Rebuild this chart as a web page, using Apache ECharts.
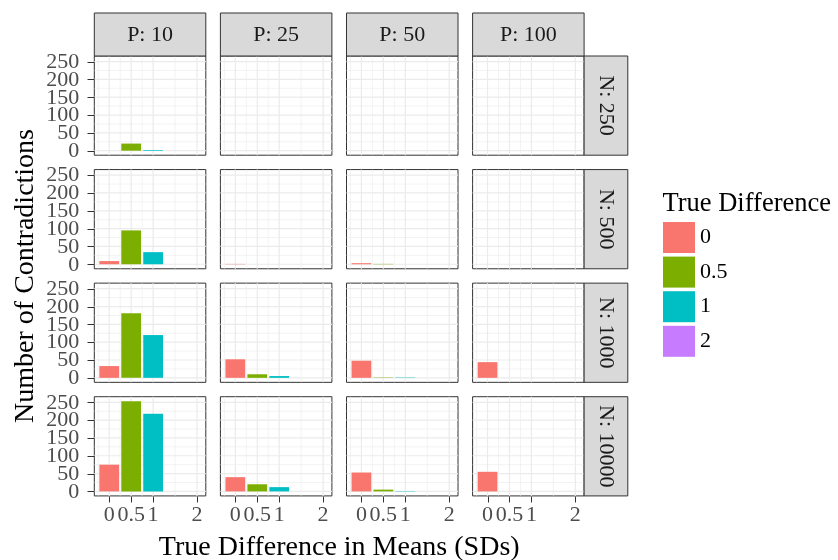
<!DOCTYPE html>
<html>
<head>
<meta charset="utf-8">
<script src="https://cdn.jsdelivr.net/npm/echarts@6/dist/echarts.min.js"></script>
<style>
  html, body { margin: 0; padding: 0; background: #ffffff; }
  #chart { width: 838px; height: 560px; }
</style>
</head>
<body>
<div id="chart"></div>
<script>
// ---------------- data ----------------
const tdLevels = ['0', '0.5', '1', '2'];          // legend / fill categories
const tdX = [0, 0.5, 1, 2];                        // x position of each level
const pLabels = ['P: 10', 'P: 25', 'P: 50', 'P: 100'];
const nLabels = ['N: 250', 'N: 500', 'N: 1000', 'N: 10000'];
const xTickValues = [0, 0.5, 1, 2];
const xMinorValues = [-0.25, 0.25, 0.75, 1.5];
const yTickValues = [0, 50, 100, 150, 200, 250];
const yMinorValues = [25, 75, 125, 175, 225];

// counts per panel: for each P column, counts for TD = 0, 0.5, 1, 2
const countsN250   = [[0, 20, 2, 0],   [0, 0, 0, 0],   [0, 0, 0, 0], [0, 0, 0, 0]];
const countsN500   = [[9, 95, 34, 0],  [1, 0, 0, 0],   [3, 1, 0, 0], [0, 0, 0, 0]];
const countsN1000  = [[33, 181, 120, 0], [52, 10, 5, 0], [48, 1, 1, 0], [44, 0, 0, 0]];
const countsN10000 = [[75, 253, 218, 0], [40, 20, 12, 0], [53, 5, 1, 0], [55, 0, 0, 0]];
const countRows = [countsN250, countsN500, countsN1000, countsN10000];

const fillColors = ['#F8766D', '#7CAE00', '#00BFC4', '#C77CFF'];

// ---------------- layout / style ----------------
const FONT = 'Liberation Serif';
const X_MIN = -0.34, X_MAX = 2.2, Y_MIN = -12.65, Y_MAX = 265.65, BAR_W = 0.45;
const PL0 = 94.3, PSX = 126.1, PW = 111.5;
const PT0 = 56, PSY = 113.57, PH = 99.2;
const STRIP_TOP = 13, STRIP_H = 43, STRIP_W = 43.7;
const TICK_LEN_X = 6, TICK_LEN_Y = 7, Y_LABEL_GAP = 15;

const grids = [], xAxes = [], yAxes = [], series = [], graphics = [];

function gridRender(params, api) {
  const v = api.value(0), kind = api.value(1), major = api.value(2);
  let p1, p2;
  if (kind === 0) { p1 = api.coord([v, Y_MIN]); p2 = api.coord([v, Y_MAX]); }
  else { p1 = api.coord([X_MIN, v]); p2 = api.coord([X_MAX, v]); }
  return {
    type: 'line',
    shape: { x1: p1[0], y1: p1[1], x2: p2[0], y2: p2[1] },
    style: { stroke: '#EBEBEB', lineWidth: major ? 1.2 : 0.6 }
  };
}
function tickRender(params, api) {
  const v = api.value(0), kind = api.value(1);
  let p, q;
  if (kind === 0) { p = api.coord([v, Y_MIN]); q = [p[0], p[1] + TICK_LEN_X]; }
  else { p = api.coord([X_MIN, v]); q = [p[0] - TICK_LEN_Y, p[1]]; }
  const line = {
    type: 'line',
    shape: { x1: Math.round(p[0]) + 0.5, y1: Math.round(p[1]) + 0.5, x2: Math.round(q[0]) + 0.5, y2: Math.round(q[1]) + 0.5 },
    style: { stroke: '#333333', lineWidth: 1 }
  };
  if (kind === 0) return line;
  return {
    type: 'group',
    children: [line, {
      type: 'text',
      style: { text: String(v), x: p[0] - Y_LABEL_GAP, y: p[1] + 0.5,
        align: 'right', verticalAlign: 'middle',
        fontFamily: FONT, fontSize: 22, fill: '#4D4D4D' }
    }]
  };
}
function barRender(params, api) {
  const x = api.value(0), y = api.value(1);
  if (!y) return null;
  const a = api.coord([x - BAR_W / 2, y]);
  const b = api.coord([x + BAR_W / 2, 0]);
  return {
    type: 'rect',
    shape: { x: a[0], y: a[1], width: b[0] - a[0], height: b[1] - a[1] },
    style: { fill: api.visual('color') }
  };
}

const gridLineData = []
  .concat(xTickValues.map(v => [v, 0, 1]))
  .concat(xMinorValues.map(v => [v, 0, 0]))
  .concat(yTickValues.map(v => [v, 1, 1]))
  .concat(yMinorValues.map(v => [v, 1, 0]));

for (let r = 0; r < 4; r++) {
  for (let c = 0; c < 4; c++) {
    const idx = r * 4 + c;
    const left = PL0 + c * PSX, top = PT0 + r * PSY;
    grids.push({ left: left, top: top, width: PW, height: PH, show: true,
      backgroundColor: '#ffffff', borderColor: '#333333', borderWidth: 1 });
    xAxes.push({
      gridIndex: idx, type: 'value', min: X_MIN, max: X_MAX,
      axisLine: { show: false, onZero: false },
      splitLine: { show: false }, minorSplitLine: { show: false },
      axisTick: { show: false },
      axisLabel: { show: r === 3, customValues: xTickValues, margin: 11,
        showMinLabel: true, showMaxLabel: true, lineHeight: 16,
        fontFamily: FONT, fontSize: 22, color: '#4D4D4D', hideOverlap: false }
    });
    yAxes.push({
      gridIndex: idx, type: 'value', min: Y_MIN, max: Y_MAX,
      axisLine: { show: false, onZero: false },
      splitLine: { show: false }, minorSplitLine: { show: false },
      axisTick: { show: false },
      axisLabel: { show: false }
    });
    series.push({
      type: 'custom', xAxisIndex: idx, yAxisIndex: idx, silent: true, z: 1,
      renderItem: gridRender, data: gridLineData
    });
    const tickData = [];
    if (r === 3) xTickValues.forEach(v => tickData.push([v, 0]));
    if (c === 0) yTickValues.forEach(v => tickData.push([v, 1]));
    if (tickData.length) {
      series.push({
        type: 'custom', xAxisIndex: idx, yAxisIndex: idx, silent: true, z: 5, clip: false,
        renderItem: tickRender, data: tickData
      });
    }
    const counts = countRows[r][c];
    for (let k = 0; k < tdLevels.length; k++) {
      series.push({
        type: 'custom', name: tdLevels[k], xAxisIndex: idx, yAxisIndex: idx, z: 2,
        itemStyle: { color: fillColors[k] },
        renderItem: barRender,
        data: [[tdX[k], counts[k]]]
      });
    }
  }
}

// top strips
for (let c = 0; c < 4; c++) {
  const left = PL0 + c * PSX;
  graphics.push({ type: 'rect', shape: { x: left, y: STRIP_TOP, width: PW, height: STRIP_H },
    style: { fill: '#D9D9D9', stroke: '#333333', lineWidth: 1 }, z: 10 });
  graphics.push({ type: 'text', x: left + PW / 2, y: STRIP_TOP + STRIP_H / 2 + 0.5, z: 11,
    style: { text: pLabels[c], fontFamily: FONT, fontSize: 22, fill: '#1A1A1A',
      align: 'center', verticalAlign: 'middle' } });
}
// right strips
for (let r = 0; r < 4; r++) {
  const top = PT0 + r * PSY, x0 = PL0 + 3 * PSX + PW;
  graphics.push({ type: 'rect', shape: { x: x0, y: top, width: STRIP_W, height: PH },
    style: { fill: '#D9D9D9', stroke: '#333333', lineWidth: 1 }, z: 10 });
  graphics.push({ type: 'text', x: x0 + STRIP_W / 2, y: top + PH / 2, rotation: -Math.PI / 2, z: 11,
    style: { text: nLabels[r], fontFamily: FONT, fontSize: 22, fill: '#1A1A1A',
      align: 'center', verticalAlign: 'middle' } });
}
// axis titles
graphics.push({ type: 'text', x: PL0 + (3 * PSX + PW) / 2, y: 548, z: 11,
  style: { text: 'True Difference in Means (SDs)', fontFamily: FONT, fontSize: 28, fill: '#000000',
    align: 'center', verticalAlign: 'middle' } });
graphics.push({ type: 'text', x: 26, y: PT0 + (3 * PSY + PH) / 2, rotation: Math.PI / 2, z: 11,
  style: { text: 'Number of Contradictions', fontFamily: FONT, fontSize: 28, fill: '#000000',
    align: 'center', verticalAlign: 'middle' } });
// legend title
graphics.push({ type: 'text', x: 662.5, y: 204, z: 11,
  style: { text: 'True Difference', fontFamily: FONT, fontSize: 26.5, fill: '#000000',
    align: 'left', verticalAlign: 'middle' } });

const chart = echarts.init(document.getElementById('chart'), null, { renderer: 'canvas' });
chart.setOption({
  animation: false,
  backgroundColor: '#ffffff',
  grid: grids,
  xAxis: xAxes,
  yAxis: yAxes,
  series: series,
  legend: {
    orient: 'vertical', left: 663, top: 222, padding: 0,
    itemWidth: 32, itemHeight: 31, itemGap: 3.6, icon: 'rect',
    selectedMode: false,
    data: tdLevels,
    textStyle: { fontFamily: FONT, fontSize: 22, color: '#000000' }
  },
  graphic: graphics
});
</script>
</body>
</html>
